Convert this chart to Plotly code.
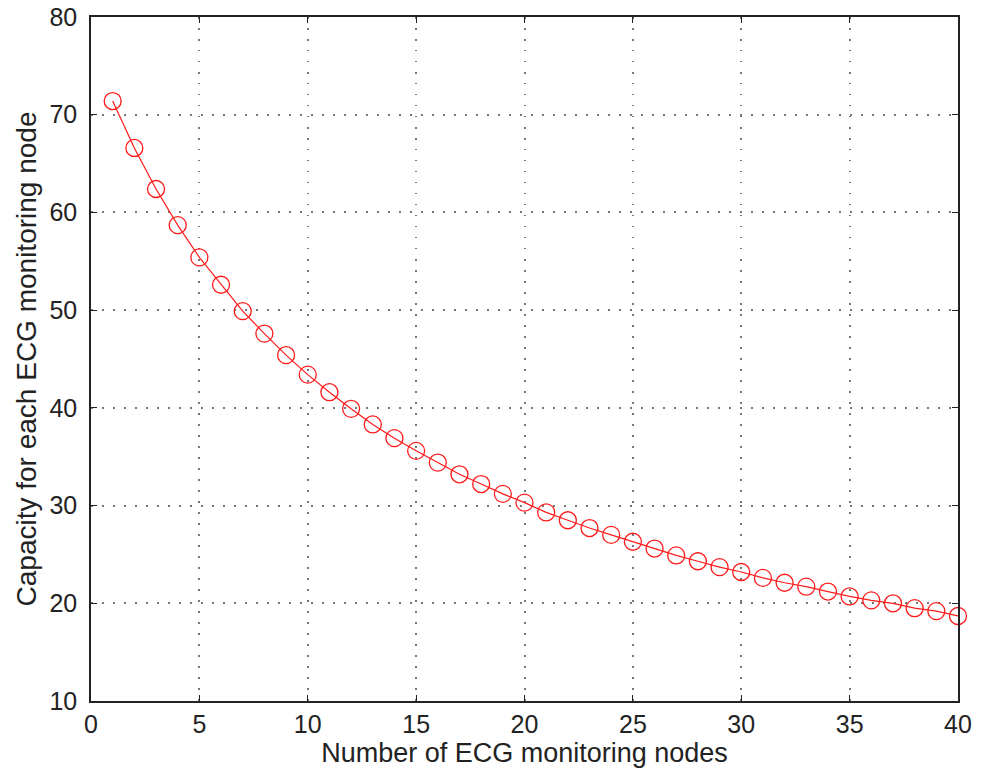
import plotly.graph_objects as go

nodes = list(range(1, 41))
capacity = [71.4, 66.6, 62.4, 58.7, 55.4, 52.6, 49.9, 47.6, 45.4, 43.4,
            41.6, 39.9, 38.3, 36.9, 35.6, 34.4, 33.2, 32.2, 31.2, 30.3,
            29.3, 28.5, 27.7, 27.0, 26.3, 25.6, 24.9, 24.3, 23.7, 23.2,
            22.6, 22.1, 21.7, 21.2, 20.7, 20.3, 20.0, 19.5, 19.2, 18.7]
x_ticks = list(range(0, 41, 5))
y_ticks = list(range(10, 81, 10))

x_title = "Number of ECG monitoring nodes"
y_title = "Capacity for each ECG monitoring node"

fig = go.Figure()
fig.add_trace(go.Scatter(
    x=nodes, y=capacity, mode="lines+markers",
    line=dict(color="#ff1a1a", width=1.2),
    marker=dict(symbol="circle-open", size=17, color="#ff1a1a", line=dict(width=1.3)),
    cliponaxis=False, showlegend=False,
))

axis_common = dict(
    showline=True, linecolor="#222", linewidth=1.5, mirror="ticks",
    ticks="inside", ticklen=6, tickcolor="#222",
    showgrid=True, gridcolor="#777777", griddash="1.5px,9.5px", gridwidth=1.5,
    zeroline=False, tickfont=dict(size=25, color="#222"),
    automargin=False, ticklabeloverflow="allow",
)

fig.update_xaxes(range=[0, 40], tickvals=x_ticks,
                 title_text=x_title, title_standoff=2,
                 title_font=dict(size=27, color="#222"), **axis_common)
fig.update_yaxes(range=[10, 80], tickvals=y_ticks, ticklabelstandoff=7,
                 title_text=y_title, title_standoff=5,
                 title_font=dict(size=28, color="#222"), **axis_common)

fig.update_layout(
    width=988, height=774,
    margin=dict(l=91, r=30, t=17, b=73),
    plot_bgcolor="white", paper_bgcolor="white",
    font=dict(family="Liberation Sans, Arial, sans-serif", color="#222"),
)

fig.write_html("out.html",
               config={"displayModeBar": False},
               post_script="document.body.style.margin='0px';")
